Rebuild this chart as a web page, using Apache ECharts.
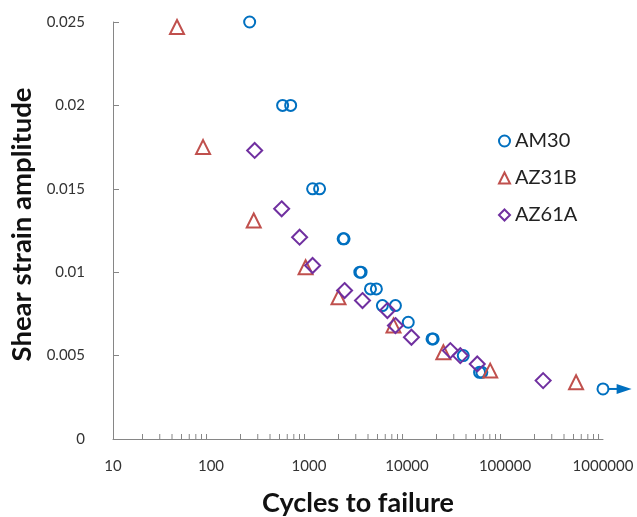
<!DOCTYPE html>
<html><head><meta charset="utf-8">
<script src="https://cdn.jsdelivr.net/npm/echarts@6/dist/echarts.min.js"></script>
<style>html,body{margin:0;padding:0;background:#fff}#c{width:637px;height:517px}</style>
</head><body><div id="c"></div>
<script>
const seriesNames = ['AM30', 'AZ31B', 'AZ61A'];
const am30Cycles = [248, 538, 650, 1089, 1282, 2230, 2280, 3300, 3400, 4240, 4870, 5610, 7620, 10300, 18000, 18500, 37500, 55000, 58000, 1000000];
const am30Strain = [0.025, 0.02, 0.02, 0.015, 0.015, 0.012, 0.012, 0.01, 0.01, 0.009, 0.009, 0.008, 0.008, 0.007, 0.006, 0.006, 0.005, 0.004, 0.004, 0.003];
const az31bCycles = [45, 83, 273, 923, 2000, 7280, 23500, 70600, 531000];
const az31bStrain = [0.0247, 0.0175, 0.0131, 0.0103, 0.0085, 0.0068, 0.0052, 0.0041, 0.0034];
const az61aCycles = [279, 526, 802, 1088, 2306, 3515, 6310, 7620, 11100, 27700, 35000, 52100, 245000];
const az61aStrain = [0.0173, 0.0138, 0.0121, 0.0104, 0.0089, 0.0083, 0.0077, 0.0068, 0.0061, 0.0053, 0.0050, 0.0045, 0.0035];
const xTickLabels = ['10', '100', '1000', '10000', '100000', '1000000'];
const yTickLabels = ['0', '0.005', '0.01', '0.015', '0.02', '0.025'];
const minorMantissas = [2, 3, 4, 5, 6, 7, 8, 9];
const decades = [10, 100, 1000, 10000, 100000];
const runoutArrow = [[1120000, 0.003], [1960000, 0.003]];

const colors = ['#0070C0', '#C0504D', '#7030A0'];
const symbols = ['circle', 'triangle', 'diamond'];
const sizes = [11, 14, 15];

function zip(a, b) { return a.map((v, i) => [v, b[i]]); }
const seriesData = [zip(am30Cycles, am30Strain), zip(az31bCycles, az31bStrain), zip(az61aCycles, az61aStrain)];
const minorTicks = [];
decades.forEach(d => minorMantissas.forEach(m => minorTicks.push([d * m, 0])));

const chart = echarts.init(document.getElementById('c'), null, {renderer: 'canvas'});
const font = 'Lato, "Open Sans", sans-serif';

const series = seriesNames.map((n, i) => ({
  name: n, type: 'scatter', data: seriesData[i], symbol: symbols[i], symbolSize: sizes[i],
  itemStyle: {color: 'rgba(255,255,255,0)', borderColor: colors[i], borderWidth: 2, opacity: 1},
  emphasis: {disabled: true}, z: 3
}));

series.push({
  type: 'custom', name: 'minor', silent: true, data: minorTicks, z: 2,
  renderItem: (params, api) => {
    const p = api.coord([api.value(0), 0]);
    return {type: 'line', shape: {x1: p[0], y1: p[1], x2: p[0], y2: p[1] - 5}, style: {stroke: '#868686', lineWidth: 1}};
  }
});

series.push({
  type: 'custom', name: 'runout', silent: true, clip: false, z: 4,
  data: [[runoutArrow[0][0], runoutArrow[0][1], runoutArrow[1][0], runoutArrow[1][1]]],
  renderItem: (params, api) => {
    const a = api.coord([api.value(0), api.value(1)]);
    const b = api.coord([api.value(2), api.value(3)]);
    const hl = 15, hw = 5;
    return {type: 'group', children: [
      {type: 'line', shape: {x1: a[0], y1: a[1], x2: b[0] - hl + 2, y2: b[1]}, style: {stroke: colors[0], lineWidth: 2}},
      {type: 'polygon', shape: {points: [[b[0], b[1]], [b[0] - hl, b[1] - hw], [b[0] - hl, b[1] + hw]]}, style: {fill: colors[0]}}
    ]};
  }
});

chart.setOption({
  animation: false,
  backgroundColor: '#fff',
  grid: {left: 113, right: 34, top: 22, bottom: 78, containLabel: false, outerBoundsMode: 'none'},
  legend: {
    data: seriesNames, orient: 'vertical', left: 493, top: 126, itemGap: 17,
    itemWidth: 11, itemHeight: 11,
    textStyle: {fontFamily: font, fontSize: 20, color: '#222'}
  },
  xAxis: {
    type: 'log', logBase: 10, min: 10, max: 1000000,
    name: 'Cycles to failure', nameLocation: 'middle', nameGap: 51,
    nameTextStyle: {fontFamily: font, fontSize: 27, fontWeight: 'bold', color: '#111'},
    axisLine: {lineStyle: {color: '#868686', width: 1}},
    axisTick: {show: false},
    splitLine: {show: false},
    axisLabel: {fontFamily: font, fontSize: 15, color: '#333', margin: 20,
      formatter: v => xTickLabels[Math.round(Math.log10(v)) - 1]}
  },
  yAxis: {
    type: 'value', min: 0, max: 0.025, interval: 0.005,
    name: 'Shear strain amplitude', nameLocation: 'middle', nameGap: 72,
    nameTextStyle: {fontFamily: font, fontSize: 27.5, fontWeight: 'bold', color: '#111', padding: [0, 0, 0, 12]},
    axisLine: {show: true, lineStyle: {color: '#868686', width: 1}},
    axisTick: {show: true, inside: true, length: 6, lineStyle: {color: '#868686'}},
    splitLine: {show: false},
    axisLabel: {fontFamily: font, fontSize: 15, color: '#333', margin: 28,
      formatter: v => yTickLabels[Math.round(v / 0.005)]}
  },
  series: series
});
</script>
</body></html>
